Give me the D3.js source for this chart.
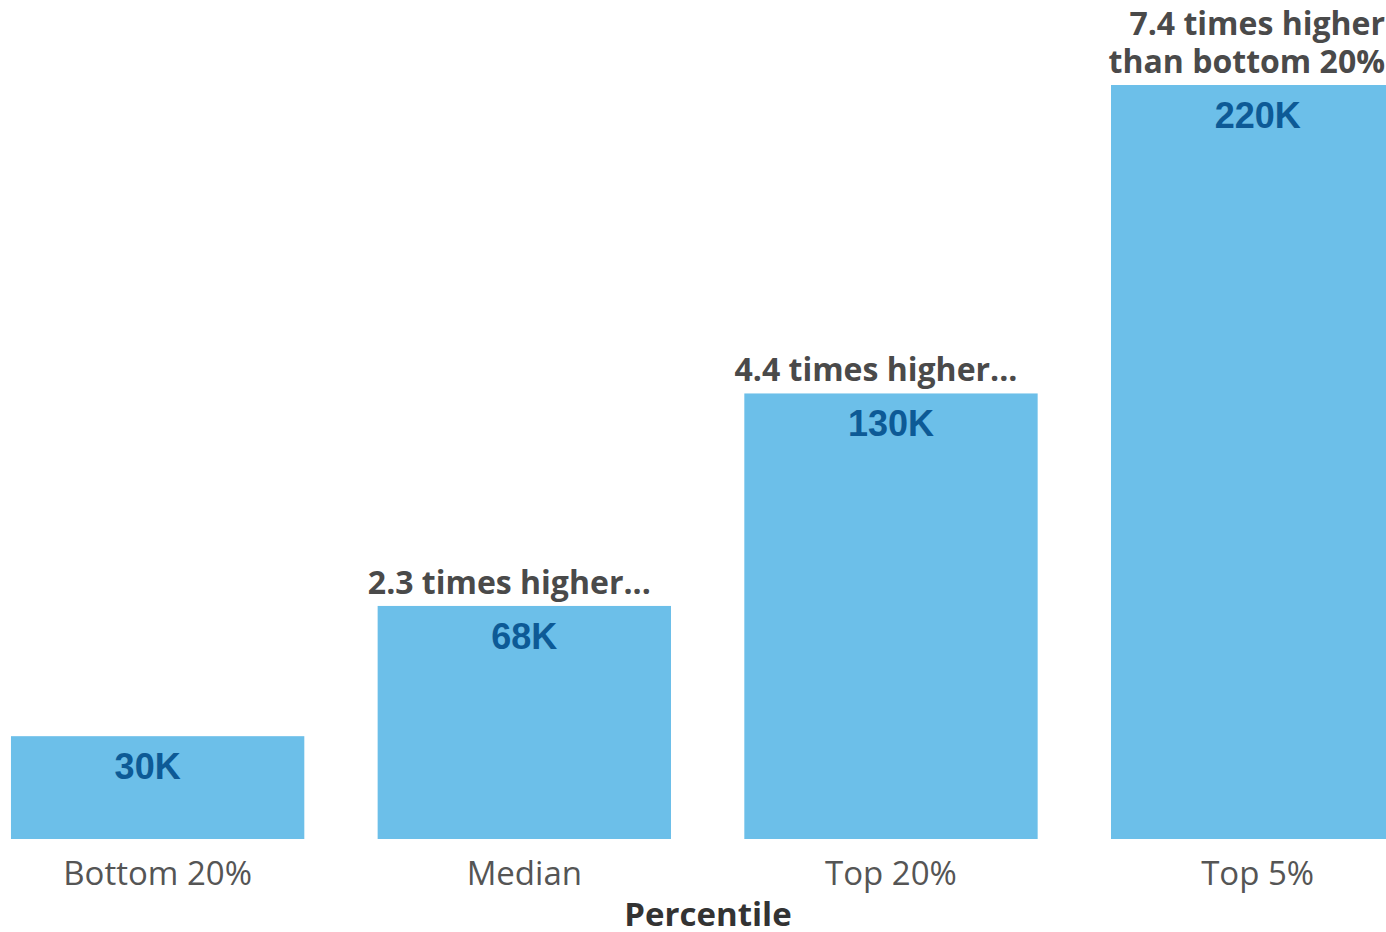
<!DOCTYPE html>
<meta charset='utf-8'>
<style>
body {
    margin: 0;
    background: #fff;
}

svg {
    display: block;
}

.bar {
    fill: #6cbfe9;
}

.value {
    font: bold 36px 'Liberation Sans', Arial, sans-serif;
    fill: #0d5a96;
    text-anchor: middle;
}

.note {
    font: bold 32px 'Open Sans', sans-serif;
    fill: #4a4a4a;
}

.tick text {
    font: 33px 'Open Sans', sans-serif;
    fill: #555;
}

.title {
    font: bold 33px 'Open Sans', sans-serif;
    fill: #333;
    text-anchor: middle;
}
</style>

<body>
    <div class='chart'></div>
    <script src='https://cdn.jsdelivr.net/npm/d3@7'></script>
    <script>
    var categories = ['Bottom 20%', 'Median', 'Top 20%', 'Top 5%'];
    var values = [30, 68, 130, 220];
    var valueLabels = ['30K', '68K', '130K', '220K'];
    var notes = [[], ['2.3 times higher...'], ['4.4 times higher...'], ['7.4 times higher', 'than bottom 20%']];

    var width = 1386,
        height = 932;
    var baseline = 839;

    var svg = d3.select('.chart').append('svg')
        .attr('width', width)
        .attr('height', height);

    // step ~367px, bar ~293px
    var x = d3.scaleBand()
        .domain(categories)
        .range([-25.7, 1441])
        .paddingInner(0.2)
        .paddingOuter(0.1);

    var y = d3.scaleLinear()
        .domain([0, 220])
        .range([baseline, 85]);

    var data = categories.map(function(c, i) {
        return { cat: c, value: values[i], label: valueLabels[i], note: notes[i] };
    });

    svg.selectAll('.bar')
        .data(data)
        .enter().append('rect')
        .attr('class', 'bar')
        .attr('x', function(d) { return x(d.cat); })
        .attr('y', function(d) { return y(d.value); })
        .attr('width', x.bandwidth())
        .attr('height', function(d) { return baseline - y(d.value); });

    svg.selectAll('.value')
        .data(data)
        .enter().append('text')
        .attr('class', 'value')
        .attr('x', function(d, i) { return x(d.cat) + x.bandwidth() / 2 - (i === 0 ? 10 : 0); })
        .attr('y', function(d) { return y(d.value) + 43; })
        .text(function(d) { return d.label; });

    // notes above the bars
    data.forEach(function(d, i) {
        if (!d.note.length) return;
        var last = i === data.length - 1;
        var t = svg.append('text')
            .attr('class', 'note')
            .attr('text-anchor', last ? 'end' : 'middle');
        d.note.forEach(function(line, j) {
            t.append('tspan')
                .attr('x', last ? 1385 : x(d.cat) + x.bandwidth() / 2 - 15)
                .attr('y', y(d.value) - 12 - (d.note.length - 1 - j) * 38)
                .text(line);
        });
    });

    var axis = svg.append('g')
        .attr('transform', 'translate(0,' + baseline + ')')
        .call(d3.axisBottom(x).tickSize(0).tickPadding(0));
    axis.select('.domain').remove();
    axis.selectAll('.tick text').attr('dy', null).attr('y', 46);

    svg.append('text')
        .attr('class', 'title')
        .attr('x', 708)
        .attr('y', 926)
        .text('Percentile');
    </script>
</body>
